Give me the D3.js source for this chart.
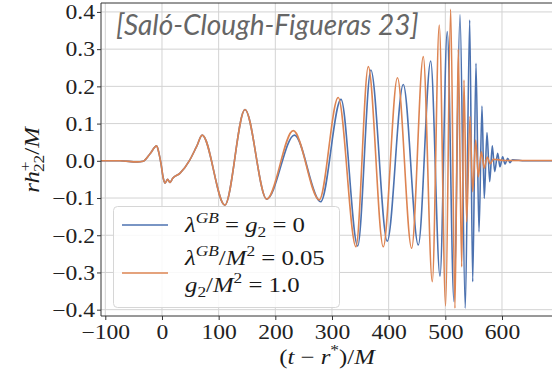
<!DOCTYPE html>
<html>
<head>
<meta charset="utf-8">
<script src="https://cdn.jsdelivr.net/npm/d3@7"></script>
<style>
  body { margin: 0; background: #fff; }
  svg { display: block; }
</style>
</head>
<body>
<svg id="chart" width="552" height="372"></svg>
<script>
// Tick values
const xTicks = [-100, 0, 100, 200, 300, 400, 500, 600];
const yTicks = [-0.4, -0.3, -0.2, -0.1, 0.0, 0.1, 0.2, 0.3, 0.4];

// Early signal (junk radiation + first cycles), common to both runs
const earlyTime   = [-108, -74, -44, -33, -21, -9.4, -5.3, -1.8, 2.3, 5.3, 10, 14, 19, 32, 49, 61, 71, 111, 146.5, 184.7];
const earlyStrain = [0.000, 0.000, -0.003, -0.001, 0.019, 0.040, 0.020, -0.007, -0.047, -0.060, -0.050, -0.058, -0.047, -0.033, 0.002, 0.038, 0.069, -0.119, 0.138, -0.103];

// GR run: lambda^GB = g2 = 0
const grTime   = [233.8, 280, 315.9, 345.4, 368.6, 397.5, 425.8, 452.3, 474.2, 490.6, 503.4, 515.3, 525.9, 535.2, 543.0, 548.3, 554.1, 559.4, 564.7, 568.7, 573.5, 578.3, 582.9, 587.1, 592.4, 596.4, 601.2, 605.3, 610.0, 614.1, 618.5, 640.6, 720];
const grStrain = [0.069, -0.110, 0.165, -0.229, 0.244, -0.216, 0.205, -0.226, 0.268, -0.310, 0.347, -0.378, 0.392, -0.396, 0.378, -0.325, 0.262, -0.191, 0.147, -0.101, 0.076, -0.056, 0.040, -0.029, 0.020, -0.016, 0.011, -0.009, 0.007, -0.005, 0.003, 0.000, 0.000];

// Modified-gravity run: lambda^GB/M^2 = 0.05, g2/M^2 = 1.0
const gbTime   = [231.7, 277.6, 311, 342.3, 364.1, 390.5, 415.5, 440.6, 461.1, 477, 489.3, 500.6, 509.4, 517.0, 522.8, 528.9, 532.9, 537.7, 543.5, 548.3, 553.6, 558.2, 563.5, 568.7, 574.0, 579.3, 584.6, 605, 720];
const gbStrain = [0.081, -0.105, 0.170, -0.231, 0.253, -0.231, 0.223, -0.235, 0.280, -0.325, 0.365, -0.390, 0.407, -0.396, 0.300, -0.285, 0.217, -0.164, 0.119, -0.083, 0.056, -0.043, 0.024, -0.020, 0.010, -0.008, 0.004, 0.001, 0.001];

const seriesColors = ["#4c72b0", "#dd8452"];

const svg = d3.select("#chart");
const plotLeft = 101, plotRight = 570, plotTop = 3, plotBottom = 316, svgW = 552;
const x = d3.scaleLinear().domain([-107.6, 720]).range([plotLeft, plotRight]);
const y = d3.scaleLinear().domain([-0.417, 0.424]).range([plotBottom, plotTop]);

const mathFont = "'Liberation Serif', 'DejaVu Serif', serif";
const mathSize = 20;
const stretch = 1.18;

// clip region for the curves
svg.append("defs").append("clipPath").attr("id", "plotClip")
  .append("rect").attr("x", plotLeft).attr("y", plotTop)
  .attr("width", svgW - plotLeft).attr("height", plotBottom - plotTop);

// grid lines
const grid = svg.append("g").attr("stroke", "#d3d3d3").attr("stroke-width", 1);
grid.selectAll(".gx").data(xTicks).join("line")
  .attr("x1", d => x(d)).attr("x2", d => x(d)).attr("y1", plotTop).attr("y2", plotBottom);
grid.selectAll(".gy").data(yTicks).join("line")
  .attr("x1", plotLeft).attr("x2", svgW).attr("y1", d => y(d)).attr("y2", d => y(d));

// title
svg.append("text")
  .attr("x", 116).attr("y", 35)
  .attr("font-family", "Lato, sans-serif").attr("font-style", "italic")
  .attr("font-size", 28).attr("fill", "#666")
  .text("[Saló-Clough-Figueras 23]");

// curves
const zip = (ts, hs) => ts.map((t, i) => [t, hs[i]]);
const grData = zip(earlyTime, earlyStrain).concat(zip(grTime, grStrain));
const gbData = zip(earlyTime, earlyStrain).concat(zip(gbTime, gbStrain));
const line = d3.line().x(d => x(d[0])).y(d => y(d[1])).curve(d3.curveMonotoneX);

const curves = svg.append("g").attr("clip-path", "url(#plotClip)");
[grData, gbData].forEach((data, i) => {
  curves.append("path").datum(data)
    .attr("fill", "none").attr("stroke", seriesColors[i])
    .attr("stroke-width", 1.6).attr("stroke-linejoin", "round")
    .attr("d", line);
});

// axes
const xAxis = svg.append("g").attr("transform", `translate(0,${plotBottom})`)
  .call(d3.axisBottom(x).tickValues(xTicks).tickSize(4).tickPadding(4).tickFormat(d3.format("d")));
const yAxis = svg.append("g").attr("transform", `translate(${plotLeft},0)`)
  .call(d3.axisLeft(y).tickValues(yTicks).tickSize(4).tickPadding(4).tickFormat(d3.format(".1f")));
[xAxis, yAxis].forEach(a => {
  a.select(".domain").remove();
  a.selectAll(".tick line").attr("stroke", "#333");
  a.selectAll("text").attr("font-family", mathFont).attr("font-size", mathSize).attr("fill", "#222");
});
xAxis.selectAll("text").attr("y", 0).attr("dy", 0)
  .attr("transform", `translate(0,23) scale(${stretch},1)`);
yAxis.selectAll("text").attr("x", 0).attr("dy", "0.34em")
  .attr("transform", `translate(-6,0) scale(${stretch},1)`);

// frame
svg.append("path")
  .attr("d", `M${svgW},${plotTop}H${plotLeft}V${plotBottom}H${svgW}`)
  .attr("fill", "none").attr("stroke", "#333").attr("stroke-width", 1);

// rich math text helper
function mathText(g, parts, size) {
  const t = g.append("text").attr("font-family", mathFont).attr("font-size", size).attr("fill", "#1a1a1a");
  let cur = 0;
  parts.forEach(p => {
    const shift = p.sup ? -0.42 * size : p.sub ? 0.22 * size : 0;
    const s = t.append("tspan").text(p.t)
      .attr("dy", shift - cur)
      .attr("font-size", p.sup || p.sub ? size * 0.7 : size);
    if (p.it) s.attr("font-style", "italic");
    if (p.dx) s.attr("dx", p.dx);
    cur = shift;
  });
  return t;
}

// legend
const legend = svg.append("g");
legend.append("rect")
  .attr("x", 113.5).attr("y", 206.5).attr("width", 226).attr("height", 101).attr("rx", 4)
  .attr("fill", "#fff").attr("fill-opacity", 0.85).attr("stroke", "#d6d6d6");
[225, 273].forEach((ly, i) => {
  legend.append("line").attr("x1", 122).attr("x2", 168).attr("y1", ly).attr("y2", ly)
    .attr("stroke", seriesColors[i]).attr("stroke-width", 1.6);
});
const legendRows = [
  { y: 232, parts: [{ t: "λ", it: true }, { t: "GB", it: true, sup: true }, { t: " = " }, { t: "g", it: true }, { t: "2", sub: true }, { t: " = 0" }] },
  { y: 265, parts: [{ t: "λ", it: true }, { t: "GB", it: true, sup: true }, { t: "/" }, { t: "M", it: true }, { t: "2", sup: true }, { t: " = 0.05" }] },
  { y: 292, parts: [{ t: "g", it: true }, { t: "2", sub: true }, { t: "/" }, { t: "M", it: true }, { t: "2", sup: true }, { t: " = 1.0" }] }
];
legendRows.forEach(r => {
  const g = legend.append("g").attr("transform", `translate(185,${r.y}) scale(${stretch},1)`);
  mathText(g, r.parts, 21);
});

// axis labels
const xl = svg.append("g").attr("transform", `translate(327,364) scale(${stretch},1)`);
mathText(xl, [{ t: "(" }, { t: "t", it: true }, { t: " − " }, { t: "r", it: true }, { t: "*", sup: true }, { t: ")/" }, { t: "M", it: true }], 21)
  .attr("text-anchor", "middle");
const yl = svg.append("g").attr("transform", `translate(39,160) rotate(-90) scale(${stretch},1)`);
mathText(yl, [{ t: "rh", it: true }, { t: "+", sup: true }, { t: "22", sub: true, dx: -9 }, { t: "/" }, { t: "M", it: true }], 21)
  .attr("text-anchor", "middle");
</script>
</body>
</html>
